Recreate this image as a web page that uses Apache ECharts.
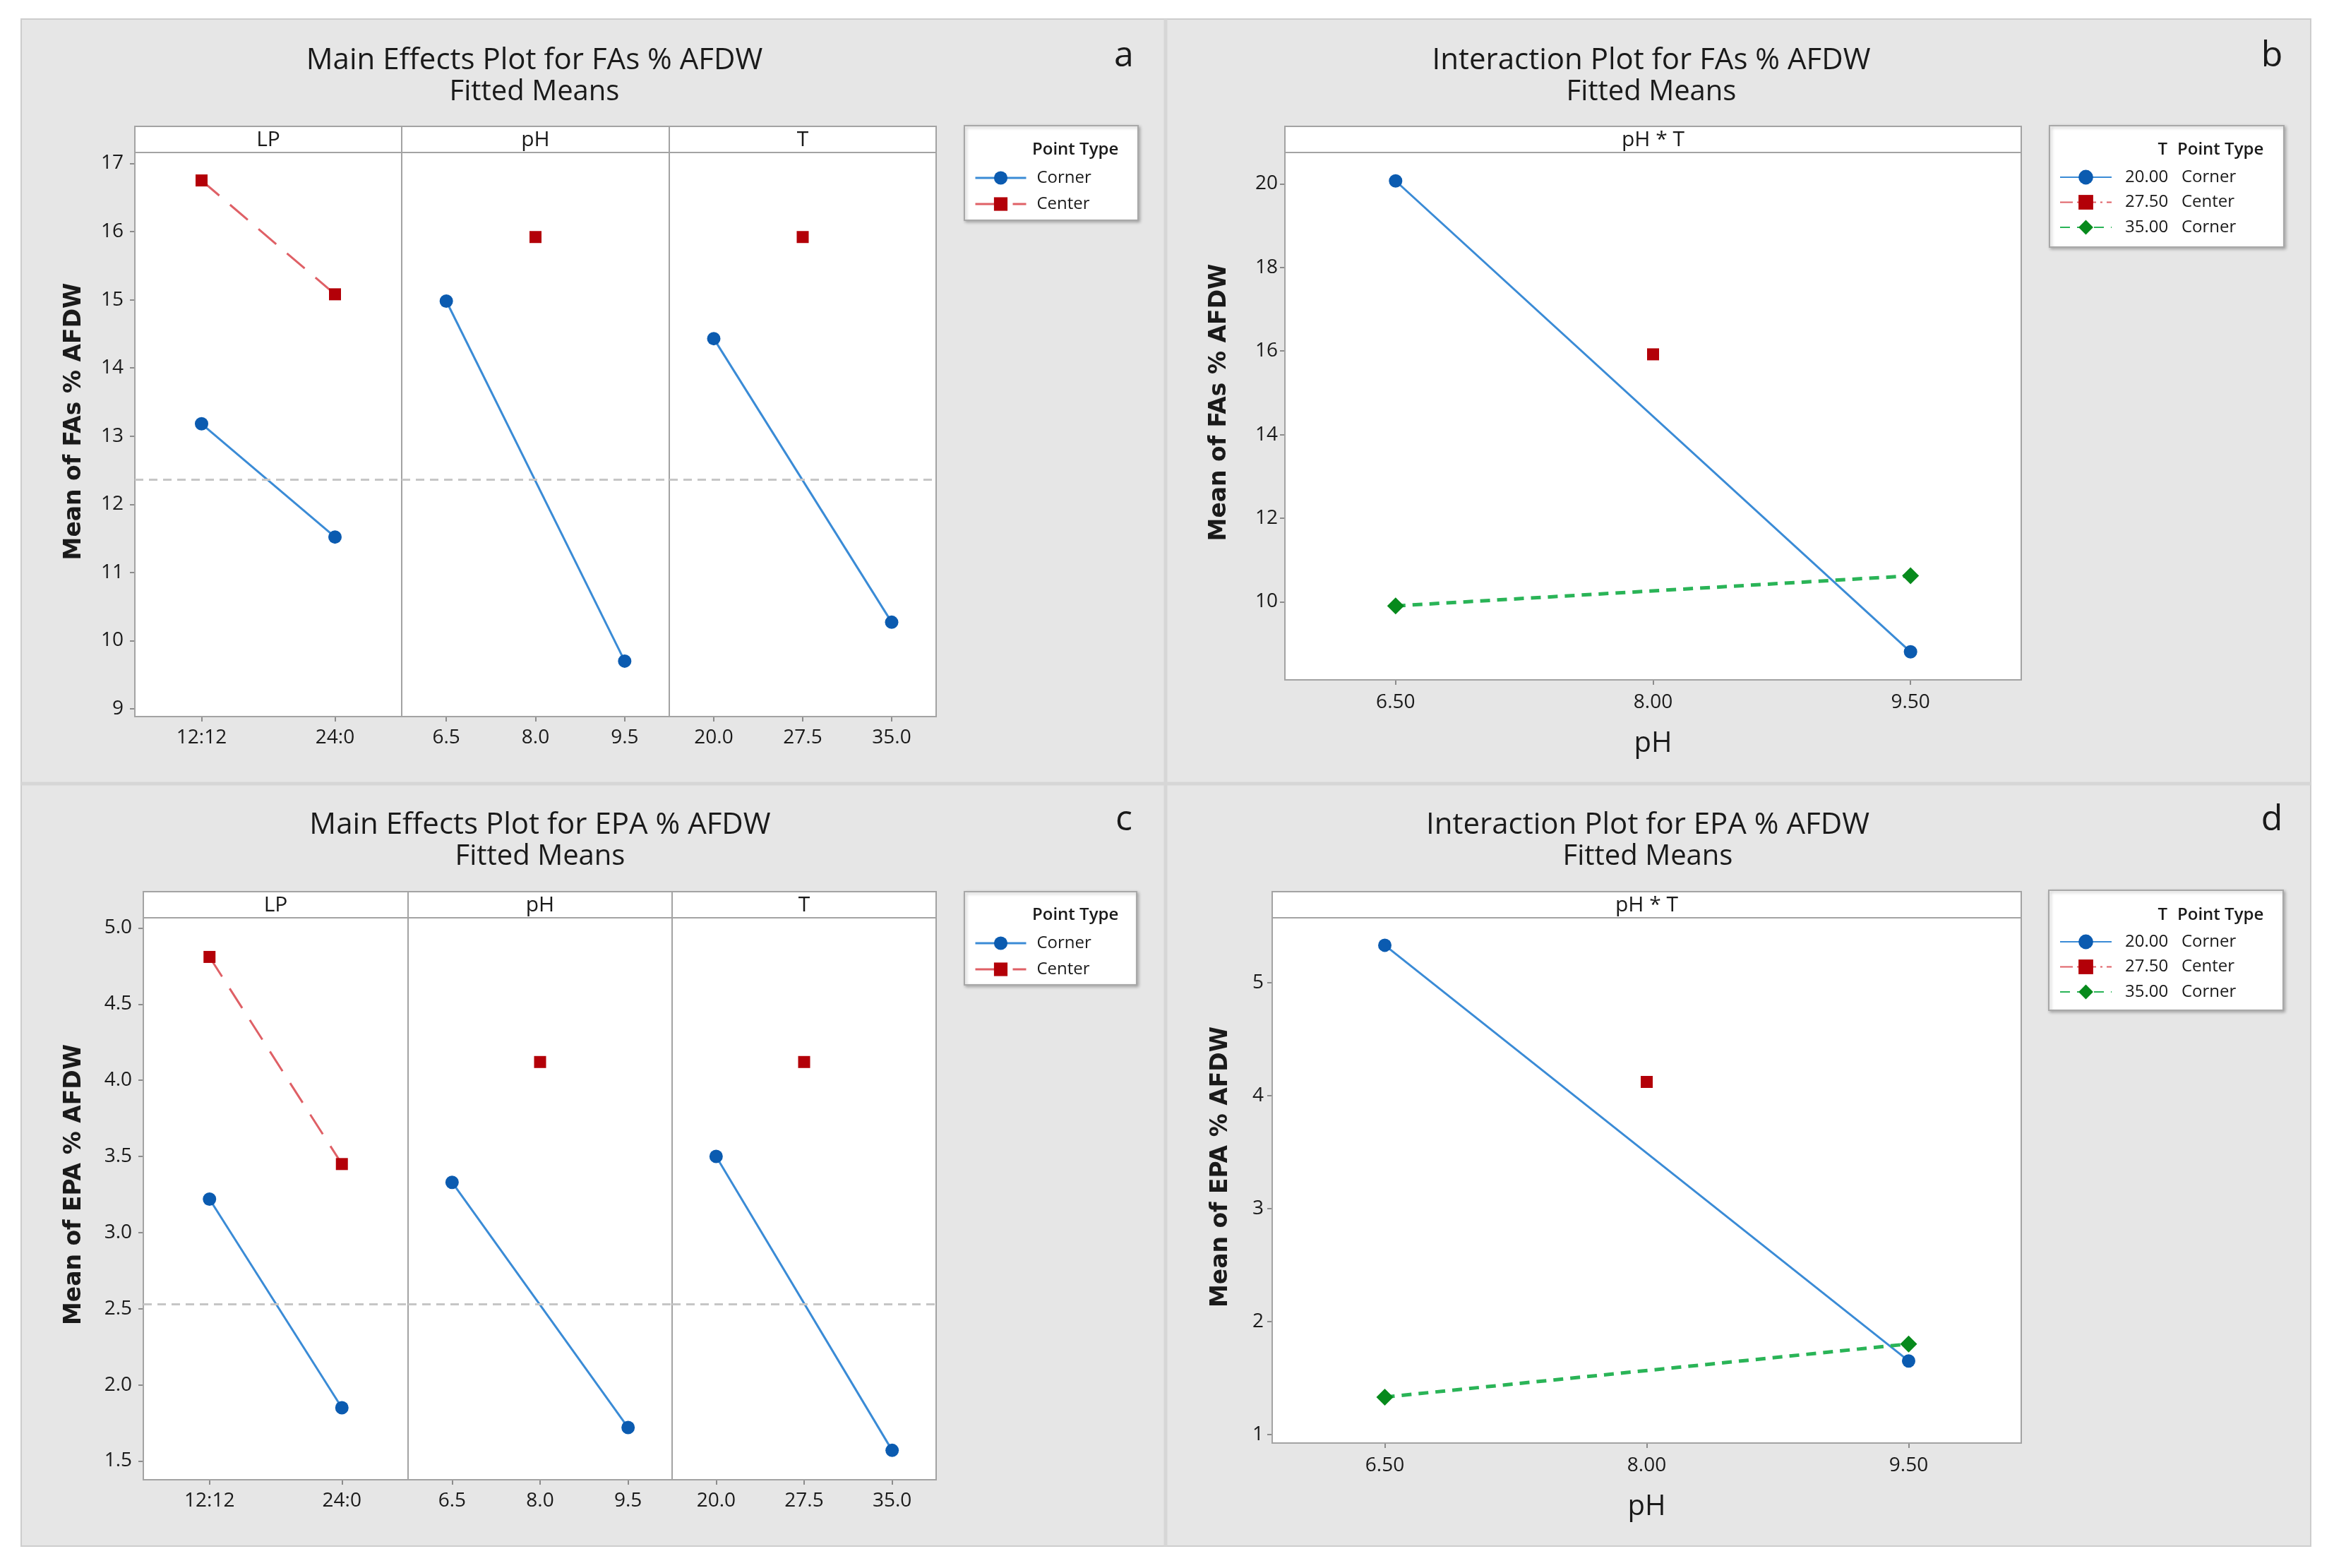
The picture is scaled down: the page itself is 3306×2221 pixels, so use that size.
<!DOCTYPE html>
<html><head><meta charset="utf-8">
<script src="https://cdn.jsdelivr.net/npm/echarts@6/dist/echarts.min.js"></script>
<style>html,body{margin:0;padding:0;background:#fff}#c{width:3306px;height:2221px}</style>
</head><body><div id="c"></div>
<script>
// ---------- categories / ticks ----------
const lpCats = ['12:12', '24:0'];
const phCats = ['6.5', '8.0', '9.5'];
const tCats = ['20.0', '27.5', '35.0'];
const phTicks = [6.5, 8.0, 9.5];
const faTicks = [9, 10, 11, 12, 13, 14, 15, 16, 17];
const faIntTicks = [10, 12, 14, 16, 18, 20];
const epaTicks = [1.5, 2.0, 2.5, 3.0, 3.5, 4.0, 4.5, 5.0];
const epaIntTicks = [1, 2, 3, 4, 5];

// ---------- FAs main effects ----------
const faLpCorner = [13.18, 11.52];
const faLpCenter = [16.75, 15.08];
const faPhCorner = [14.98, null, 9.70];
const faPhCenter = [null, 15.92, null];
const faTCorner = [14.43, null, 10.27];
const faTCenter = [null, 15.92, null];
const faMean = 12.36;

// ---------- EPA main effects ----------
const epaLpCorner = [3.22, 1.85];
const epaLpCenter = [4.81, 3.45];
const epaPhCorner = [3.33, null, 1.72];
const epaPhCenter = [null, 4.12, null];
const epaTCorner = [3.50, null, 1.57];
const epaTCenter = [null, 4.12, null];
const epaMean = 2.53;

// ---------- Interaction pH * T ----------
const intPhCorner = [6.5, 9.5];
const intPhCenter = [8.0];
const faInt20 = [20.07, 8.80];
const faInt275 = [15.92];
const faInt35 = [9.90, 10.62];
const epaInt20 = [5.33, 1.65];
const epaInt275 = [4.12];
const epaInt35 = [1.33, 1.80];

// ---------- styles ----------
const FONT = "'Open Sans', 'Noto Sans', sans-serif";
const BLUE_M = '#0b5bb0', BLUE_L = '#3a8bd6';
const RED_M = '#b30008', RED_L = '#df6066';
const GREEN_M = '#078a1c', GREEN_L = '#2ab457';
const FRAME = '#a3a3a3';
const TXT = '#1a1a1a';

const grids = [
  {left: 191, top: 216, width: 378, height: 799},
  {left: 569, top: 216, width: 379, height: 799},
  {left: 948, top: 216, width: 378, height: 799},
  {left: 1820, top: 216, width: 1043, height: 747},
  {left: 203, top: 1300, width: 375, height: 796},
  {left: 578, top: 1300, width: 374, height: 796},
  {left: 952, top: 1300, width: 374, height: 796},
  {left: 1802, top: 1300, width: 1061, height: 744}
].map(g => Object.assign(g, {show: true, backgroundColor: '#fff', borderColor: FRAME, borderWidth: 2, z: 1}));

const labelStyle = {fontFamily: FONT, fontSize: 28, fontWeight: 500, color: TXT};
const tickStyle = {show: true, length: 7, lineStyle: {color: '#8c8c8c', width: 2}};

function catX(idx, cats) {
  return {type: 'category', gridIndex: idx, data: cats, boundaryGap: true,
    axisLine: {show: false}, axisTick: Object.assign({alignWithLabel: true}, tickStyle),
    axisLabel: Object.assign({margin: 16}, labelStyle), splitLine: {show: false}};
}
function valX(idx) {
  return {type: 'value', gridIndex: idx, min: 5.855, max: 10.145,
    axisLine: {show: false},
    axisTick: Object.assign({customValues: phTicks}, tickStyle),
    axisLabel: Object.assign({margin: 18, customValues: phTicks, formatter: v => v.toFixed(2)}, labelStyle),
    splitLine: {show: false},
    name: 'pH', nameLocation: 'middle', nameGap: 71,
    nameTextStyle: {fontFamily: FONT, fontSize: 40, fontWeight: 500, color: TXT}};
}
function valY(idx, min, max, ticks, showLabels, digits, margin) {
  return {type: 'value', gridIndex: idx, min: min, max: max,
    axisLine: {show: false},
    axisTick: Object.assign({customValues: ticks}, tickStyle, {show: showLabels}),
    axisLabel: Object.assign({show: showLabels, margin: margin, customValues: ticks,
      formatter: v => v.toFixed(digits)}, labelStyle),
    splitLine: {show: false}};
}

function meanLine(v) {
  return {silent: true, symbol: 'none', animation: false, label: {show: false},
    lineStyle: {color: '#c6c6c6', width: 3, type: [12, 8]}, data: [{yAxis: v}]};
}
function cornerSeries(idx, data, mean) {
  const s = {type: 'line', name: 'Corner', xAxisIndex: idx, yAxisIndex: idx, data: data,
    connectNulls: true, symbol: 'circle', symbolSize: 19, showSymbol: true,
    itemStyle: {color: BLUE_M}, lineStyle: {color: BLUE_L, width: 3}, z: 4};
  if (mean !== undefined) s.markLine = meanLine(mean);
  return s;
}
function centerSeries(idx, data) {
  return {type: 'line', name: 'Center', xAxisIndex: idx, yAxisIndex: idx, data: data,
    connectNulls: true, symbol: 'rect', symbolSize: 17, showSymbol: true,
    itemStyle: {color: RED_M}, lineStyle: {color: RED_L, width: 3, type: [33, 20]}, z: 5};
}
function pairs(xs, ys) { return xs.map((x, i) => [x, ys[i]]); }
function intSeries(idx, v20, v275, v35) {
  return [
    {type: 'line', name: '20.00 Corner', xAxisIndex: idx, yAxisIndex: idx, data: pairs(intPhCorner, v20),
      symbol: 'circle', symbolSize: 19, itemStyle: {color: BLUE_M}, lineStyle: {color: BLUE_L, width: 3}, z: 4},
    {type: 'line', name: '27.50 Center', xAxisIndex: idx, yAxisIndex: idx, data: pairs(intPhCenter, v275),
      symbol: 'rect', symbolSize: 17, itemStyle: {color: RED_M}, lineStyle: {color: RED_L, width: 3, type: [18, 6, 3, 6]}, z: 5},
    {type: 'line', name: '35.00 Corner', xAxisIndex: idx, yAxisIndex: idx, data: pairs(intPhCorner, v35),
      symbol: 'diamond', symbolSize: 24, itemStyle: {color: GREEN_M}, lineStyle: {color: GREEN_L, width: 5, type: [14, 10]}, z: 5}
  ];
}

const series = [
  cornerSeries(0, faLpCorner, faMean), centerSeries(0, faLpCenter),
  cornerSeries(1, faPhCorner, faMean), centerSeries(1, faPhCenter),
  cornerSeries(2, faTCorner, faMean), centerSeries(2, faTCenter),
  ...intSeries(3, faInt20, faInt275, faInt35),
  cornerSeries(4, epaLpCorner, epaMean), centerSeries(4, epaLpCenter),
  cornerSeries(5, epaPhCorner, epaMean), centerSeries(5, epaPhCenter),
  cornerSeries(6, epaTCorner, epaMean), centerSeries(6, epaTCenter),
  ...intSeries(7, epaInt20, epaInt275, epaInt35)
];

const xAxis = [catX(0, lpCats), catX(1, phCats), catX(2, tCats), valX(3),
  catX(4, lpCats), catX(5, phCats), catX(6, tCats), valX(7)];
const yAxis = [
  valY(0, 8.886, 17.16, faTicks, true, 0, 16), valY(1, 8.886, 17.16, faTicks, false, 0, 16), valY(2, 8.886, 17.16, faTicks, false, 0, 16),
  valY(3, 8.13, 20.75, faIntTicks, true, 0, 10),
  valY(4, 1.377, 5.067, epaTicks, true, 1, 16), valY(5, 1.377, 5.067, epaTicks, false, 1, 16), valY(6, 1.377, 5.067, epaTicks, false, 1, 16),
  valY(7, 0.923, 5.573, epaIntTicks, true, 0, 12)
];

const legTxt = {fontFamily: FONT, fontSize: 24, fontWeight: 500, color: TXT, lineHeight: 24};
function mainLegend(top) {
  return {data: ['Corner', 'Center'], orient: 'vertical', left: 1375, top: top,
    itemWidth: 72, itemHeight: 24, itemGap: 13, selectedMode: false,
    lineStyle: {width: 3},
    textStyle: Object.assign({padding: [0, 0, 0, 10]}, legTxt)};
}
function intLegend(top) {
  return {data: ['20.00 Corner', '27.50 Center', '35.00 Corner'], orient: 'vertical', left: 2912, top: top,
    itemWidth: 73, itemHeight: 26, itemGap: 11.5, selectedMode: false,
    formatter: n => { const p = n.split(' '); return '{v|' + p[0] + '}{n|' + p[1] + '}'; },
    textStyle: Object.assign({padding: [0, 0, 0, 14], rich: {
      v: {width: 80, fontFamily: FONT, fontSize: 24, fontWeight: 500, color: TXT},
      n: {fontFamily: FONT, fontSize: 24, fontWeight: 500, color: TXT}}}, legTxt)};
}

// ---------- graphic (panels, strips, titles) ----------
const g = [];
g.push({type: 'rect', z: -10, shape: {x: 30, y: 27, width: 3243, height: 2163},
  style: {fill: '#e6e6e6', stroke: '#cdcdcd', lineWidth: 2}});
g.push({type: 'line', z: -9, shape: {x1: 1651, y1: 27, x2: 1651, y2: 2190}, style: {stroke: '#d6d6d6', lineWidth: 5}});
g.push({type: 'line', z: -9, shape: {x1: 30, y1: 1110, x2: 3273, y2: 1110}, style: {stroke: '#d6d6d6', lineWidth: 5}});

function strip(x, y, w, label) {
  g.push({type: 'rect', z: 2, shape: {x: x, y: y, width: w, height: 37},
    style: {fill: '#fff', stroke: FRAME, lineWidth: 2}});
  g.push({type: 'text', z: 3, x: x + w / 2, y: y + 19,
    style: {text: label, font: "500 30px " + FONT, fill: TXT, textAlign: 'center', textVerticalAlign: 'middle'}});
}
strip(191, 179, 378, 'LP'); strip(569, 179, 379, 'pH'); strip(948, 179, 378, 'T');
strip(1820, 179, 1043, 'pH * T');
strip(203, 1263, 375, 'LP'); strip(578, 1263, 374, 'pH'); strip(952, 1263, 374, 'T');
strip(1802, 1263, 1061, 'pH * T');

function txt(x, y, s, font, align, rot) {
  const e = {type: 'text', z: 3, x: x, y: y,
    style: {text: s, font: font, fill: TXT, textAlign: align || 'center', textVerticalAlign: 'middle'}};
  if (rot) e.rotation = rot;
  g.push(e);
}
const TF = "500 42px " + FONT, SF = "500 40px " + FONT, LF = "500 50px " + FONT;
const YF = "bold 33px 'DejaVu Sans', sans-serif";
txt(757, 86, 'Main Effects Plot for FAs % AFDW', TF); txt(757, 131, 'Fitted Means', SF);
txt(2339, 86, 'Interaction Plot for FAs % AFDW', TF); txt(2339, 131, 'Fitted Means', SF);
txt(765, 1169, 'Main Effects Plot for EPA % AFDW', TF); txt(765, 1214, 'Fitted Means', SF);
txt(2334, 1169, 'Interaction Plot for EPA % AFDW', TF); txt(2334, 1214, 'Fitted Means', SF);
txt(1592, 80, 'a', LF); txt(3218, 80, 'b', LF); txt(1592, 1162, 'c', LF); txt(3218, 1162, 'd', LF);
txt(105, 597, 'Mean of FAs % AFDW', YF, 'center', Math.PI / 2);
txt(1727, 570, 'Mean of FAs % AFDW', YF, 'center', Math.PI / 2);
txt(105, 1678, 'Mean of EPA % AFDW', YF, 'center', Math.PI / 2);
txt(1729, 1653, 'Mean of EPA % AFDW', YF, 'center', Math.PI / 2);

function legBox(x, y, w, h) {
  g.push({type: 'rect', z: 2, shape: {x: x, y: y, width: w, height: h},
    style: {fill: '#fff', stroke: '#a8a8a8', lineWidth: 2, shadowBlur: 4, shadowColor: 'rgba(0,0,0,0.25)', shadowOffsetX: 2, shadowOffsetY: 2}});
}
const HF = "600 24px " + FONT;
legBox(1366, 178, 246, 134); txt(1462, 212, 'Point Type', HF, 'left');
legBox(1366, 1263, 244, 132); txt(1462, 1296, 'Point Type', HF, 'left');
legBox(2903, 178, 332, 172); txt(3070, 212, 'T', HF, 'right'); txt(3084, 212, 'Point Type', HF, 'left');
legBox(2902, 1261, 332, 170); txt(3070, 1296, 'T', HF, 'right'); txt(3084, 1296, 'Point Type', HF, 'left');

const chart = echarts.init(document.getElementById('c'), null, {renderer: 'canvas'});
chart.setOption({
  backgroundColor: '#ffffff',
  animation: false,
  grid: grids,
  xAxis: xAxis,
  yAxis: yAxis,
  legend: [mainLegend(235), intLegend(234), mainLegend(1319), intLegend(1317)],
  graphic: {elements: g},
  series: series
});
</script></body></html>
